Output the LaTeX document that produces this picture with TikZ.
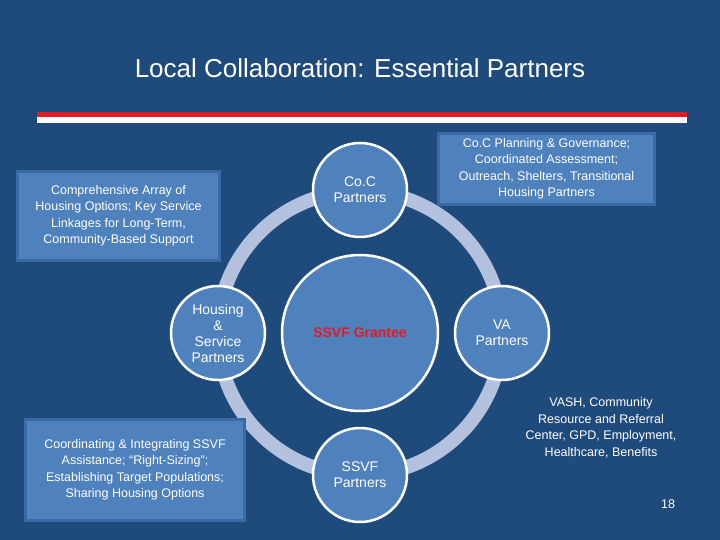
\documentclass[tikz,border=0pt]{standalone}
\usepackage{fontspec}
\setmainfont{Liberation Sans}
\definecolor{bg}{HTML}{1F4A7C}
\definecolor{fillb}{HTML}{4F81BD}
\definecolor{boxedge}{HTML}{3A6AA5}
\definecolor{ring}{HTML}{B3C1DE}
\definecolor{redl}{HTML}{E31B23}
\begin{document}
\begin{tikzpicture}[x=1pt,y=-1pt,
  circ/.style={circle,fill=fillb,draw=white,line width=2.5pt,minimum size=#1,inner sep=0pt,text=white,align=center,font=\fontsize{14}{16}\selectfont},
  infobox/.style={fill=fillb,draw=boxedge,line width=3pt,text=white,align=center,font=\fontsize{12.5}{16.5}\selectfont,inner sep=3pt},
  plain/.style={text=white,align=center,font=\fontsize{12.5}{16.5}\selectfont}]
\fill[bg] (0,0) rectangle (720,540);
\useasboundingbox (0,0) rectangle (720,540);
\node[text=white,font=\fontsize{26}{30}\selectfont] (title) at (360,68) {Local Collaboration: Essential Partners};
\fill[redl] (37,112) rectangle (687,117);
\fill[white] (37,117) rectangle (687,123);
\draw[ring,line width=14pt] (360,333) circle[radius=142];
\node[circ=156pt] (center) at (360,333) {\textcolor{redl}{\textbf{SSVF Grantee}}};
\node[circ=94pt] (coc) at (360,190) {Co.C\\Partners};
\node[circ=94pt] (hsp) at (218,333) {Housing\\\&\\Service\\Partners};
\node[circ=94pt] (va) at (502,333) {VA\\Partners};
\node[circ=94pt] (ssvf) at (360,475) {SSVF\\Partners};
\node[infobox,minimum width=202pt,minimum height=89pt] (b1) at (118.5,216) {Comprehensive Array of\\Housing Options; Key Service\\Linkages for Long-Term,\\Community-Based Support};
\node[infobox,minimum width=216pt,minimum height=71pt] (b2) at (546.5,169) {Co.C Planning \& Governance;\\Coordinated Assessment;\\Outreach, Shelters, Transitional\\Housing Partners};
\node[infobox,minimum width=219pt,minimum height=101pt] (b3) at (135,470) {Coordinating \& Integrating SSVF\\Assistance; “Right-Sizing”;\\Establishing Target Populations;\\Sharing Housing Options};
\node[plain] (b4) at (601,428) {VASH, Community\\Resource and Referral\\Center, GPD, Employment,\\Healthcare, Benefits};
\node[text=white,font=\fontsize{12.5}{14}\selectfont] (num) at (668,504) {18};
\end{tikzpicture}
\end{document}
